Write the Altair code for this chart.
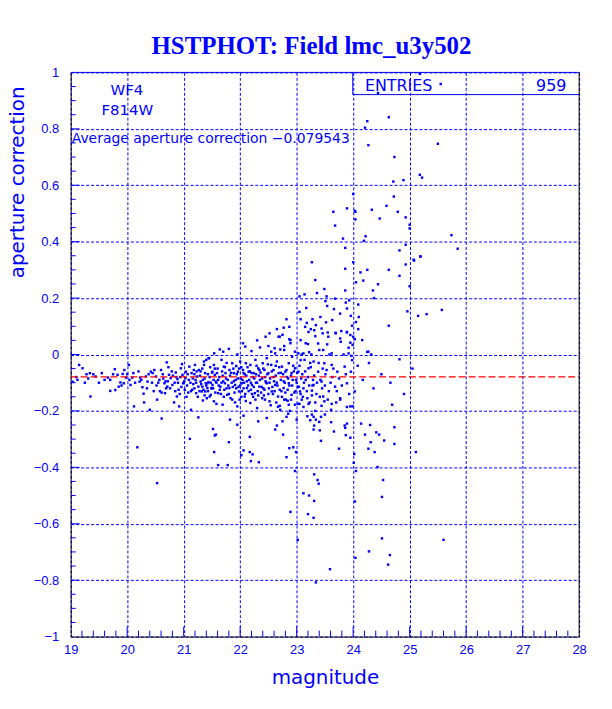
import altair as alt
import pandas as pd

# ---- data: (magnitude, aperture correction) ----
left_band = [(19.04,-0.097),(19.10,-0.08),(19.15,-0.037),(19.21,-0.049),(19.28,-0.07),(19.34,-0.066),(19.31,-0.085),(19.35,-0.149),(19.44,-0.078),(19.55,-0.066),(19.66,-0.082),(19.70,-0.09),(19.70,-0.129),(19.78,-0.052),(19.79,-0.126),(19.83,-0.072),(19.85,-0.114),(19.88,-0.099),(19.92,-0.069),(19.95,-0.055),(19.94,-0.102),(19.98,-0.082),(20.03,-0.037),(20.04,-0.09),(20.06,-0.108),(20.09,-0.082),(20.11,-0.066),(20.12,-0.184),(20.18,-0.329),(20.22,-0.096),(20.23,-0.082),(20.27,-0.116),(20.29,-0.139),(20.30,-0.17),(20.33,-0.078),(20.36,-0.096),(20.40,-0.196),(20.42,-0.061),(20.45,-0.066),(20.48,-0.055),(20.51,-0.078),(20.53,-0.16),(20.57,-0.09),(20.60,-0.055),(20.61,-0.135),(20.61,-0.227),(20.66,-0.102),(20.67,-0.137),(20.70,-0.028),(20.71,-0.114),(20.73,-0.045),(20.74,-0.072),(20.77,-0.084),(20.80,-0.108),(20.83,-0.17),(20.86,-0.064),(20.88,-0.149),(20.89,-0.087),(20.91,-0.125),(20.92,-0.184),(20.95,-0.049),(20.97,-0.034),(20.98,-0.072),(20.99,-0.102),(21.03,-0.084),(21.04,-0.061),(21.08,-0.135),(21.10,-0.043),(21.11,-0.299),(21.13,-0.196),(21.14,-0.066),(21.15,-0.125),(21.18,-0.055),(21.20,-0.037),(21.21,-0.09),(21.22,-0.137),(21.24,-0.078),(21.26,-0.114),(21.26,-0.223),(21.27,-0.055),(21.30,-0.096),(21.32,-0.131),(21.34,-0.163),(21.36,-0.037),(21.38,-0.066),(21.39,-0.102),(21.40,-0.019),(21.42,-0.119),(21.45,-0.013),(21.48,-0.143),(21.50,-0.064),(21.51,-0.108),(21.52,-0.264),(21.54,0.004),(21.55,-0.072),(21.57,-0.284),(21.58,-0.175)]

left_band_more = [(19.12,-0.09),(19.25,-0.1),(19.4,-0.07),(19.5,-0.1),(19.6,-0.09),(19.75,-0.07),(19.9,-0.11),(20.0,-0.07),(20.14,-0.1),(20.2,-0.06),(20.25,-0.09),(20.35,-0.12),(20.38,-0.07),(20.44,-0.1),(20.47,-0.13),(20.55,-0.1),(20.64,-0.085),(20.69,-0.12),(20.72,-0.095),(20.81,-0.075),(20.85,-0.13),(20.9,-0.1),(20.94,-0.08)]

left_low = [(20.53,-0.456),(21.54,-0.346),(21.61,-0.392),(21.80,-0.311),(21.78,-0.392),(22.06,-0.340),(22.02,-0.357),(22.17,-0.346),(22.22,-0.354),(22.19,-0.378),(22.33,-0.382),(22.82,-0.364)]

mid_top = [(22.45,0.063),(22.52,0.075),(22.68,0.063),(22.87,0.054),(22.89,0.040),(23.16,0.040),(23.33,0.065),(23.21,0.080),(23.46,0.075),(23.56,0.063),(23.69,0.077),(23.77,0.057),(23.89,0.080),(23.95,0.069),(23.99,0.034),(22.09,0.028),(21.64,0.018),(22.61,0.022),(22.71,0.018),(22.62,0.004),(23.03,0.004),(23.09,0.0),(23.26,0.0),(23.47,0.016),(23.58,0.0),(23.83,0.0),(21.70,0.01),(21.95,0.0),(22.20,0.012),(22.35,0.025),(22.55,0.01),(22.78,0.03),(21.8,0.02),(22.05,0.04),(22.3,0.05),(22.5,0.03),(22.65,0.09),(22.75,0.07)]

mid_band_upper = [(21.36,-0.025),(21.44,-0.013),(21.51,-0.061),(21.535,-0.037),(21.59,-0.066),(21.67,-0.019),(21.71,-0.043),(21.74,-0.066),(21.81,-0.055),(21.86,-0.031),(21.89,-0.066),(21.93,-0.041),(21.96,-0.061),(22.0,-0.025),(22.02,-0.045),(22.06,-0.066),(22.10,-0.031),(22.15,-0.061),(22.18,-0.037),(22.24,-0.066),(22.27,-0.019),(22.32,-0.049),(22.36,-0.064),(22.40,-0.031),(22.43,-0.055),(22.47,-0.013),(22.50,-0.066),(22.55,-0.037),(22.59,-0.055),(22.65,-0.025),(22.68,-0.066),(22.74,-0.043),(22.80,-0.061),(22.86,-0.031),(22.91,-0.066),(22.97,-0.049),(23.03,-0.061),(23.14,-0.019),(23.21,-0.049),(23.30,-0.025),(23.38,-0.061),(23.49,-0.031),(23.53,-0.055),(23.62,-0.037),(23.72,-0.061),(23.85,-0.043),(23.96,-0.061)]

mid_band_lower = [(21.33,-0.114),(21.38,-0.131),(21.42,-0.102),(21.46,-0.149),(21.50,-0.119),(21.535,-0.166),(21.57,-0.096),(21.61,-0.137),(21.65,-0.114),(21.69,-0.178),(21.73,-0.102),(21.77,-0.143),(21.81,-0.119),(21.86,-0.160),(21.91,-0.108),(21.95,-0.184),(21.98,-0.131),(22.03,-0.102),(22.08,-0.149),(22.12,-0.119),(22.18,-0.172),(22.21,-0.108),(22.26,-0.137),(22.30,-0.190),(22.34,-0.114),(22.39,-0.155),(22.43,-0.125),(22.47,-0.102),(22.52,-0.166),(22.56,-0.131),(22.62,-0.108),(22.67,-0.149),(22.71,-0.196),(22.77,-0.119),(22.81,-0.160),(22.86,-0.102),(22.91,-0.143),(22.97,-0.178),(23.02,-0.114),(23.06,-0.131),(23.09,-0.160),(23.27,-0.128),(23.30,-0.108),(23.44,-0.096),(23.47,-0.149),(23.61,-0.196),(23.68,-0.114),(23.77,-0.155),(23.89,-0.102),(23.95,-0.184),(24.03,-0.131)]

mid_low = [(21.55,-0.287),(21.82,-0.231),(21.95,-0.249),(22.06,-0.217),(22.17,-0.292),(22.32,-0.237),(22.47,-0.225),(22.62,-0.266),(22.65,-0.252),(23.0,-0.231),(23.85,-0.252)]

faint_upper = [(25.18,0.637),(25.22,0.627),(24.89,0.618),(24.71,0.613),(24.00,0.569),(24.72,0.560),(24.59,0.527),(23.89,0.518),(23.65,0.506),(24.04,0.506),(24.33,0.513),(24.79,0.506),(24.47,0.482),(24.93,0.486),(24.04,0.479),(23.68,0.457),(25.00,0.460),(25.00,0.447),(24.22,0.419),(24.19,0.403),(23.82,0.411),(24.93,0.389),(23.86,0.378),(24.82,0.369),(24.00,0.327),(23.27,0.327),(25.07,0.336),(25.19,0.347),(24.93,0.319),(24.25,0.300),(23.86,0.304),(24.63,0.300),(24.13,0.291),(24.82,0.279),(23.33,0.264),(24.18,0.262),(24.05,0.256),(24.44,0.249),(23.49,0.232),(23.86,0.227),(24.35,0.227),(23.36,0.218),(23.14,0.213),(23.05,0.206),(25.00,0.242),(23.53,0.206),(23.68,0.198),(23.93,0.192),(23.87,0.184),(23.51,0.189),(23.17,0.165),(23.54,0.172),(23.66,0.161),(23.89,0.163),(24.09,0.177),(23.77,0.145),(23.42,0.133),(23.05,0.151),(23.96,0.137),(24.10,0.133),(24.96,0.153),(25.15,0.137),(25.30,0.143),(22.82,0.125),(23.07,0.125),(23.18,0.112),(23.28,0.125),(23.34,0.104),(23.52,0.114),(23.63,0.122),(24.05,0.115),(22.77,0.095),(22.87,0.098),(23.15,0.098),(23.25,0.090),(23.31,0.086),(23.44,0.092),(23.55,0.078),(23.69,0.075),(23.79,0.083),(23.89,0.078),(23.98,0.102),(24.00,0.063),(24.09,0.090),(24.16,0.051),(24.63,0.102),(22.70,0.063),(22.89,0.051),(23.07,0.051),(23.20,0.037),(23.38,0.039),(23.54,0.036),(23.78,0.045),(23.95,0.042),(23.92,0.024),(24.03,0.054),(22.78,0.016),(22.97,0.010),(23.12,0.004),(23.22,0.008),(23.40,0.016),(23.62,0.004),(23.92,0.004),(24.27,0.010),(24.82,-0.017),(22.92,-0.008)]

faint_top = [(25.18,0.995),(25.55,0.959),(24.44,0.927),(24.63,0.841),(24.25,0.827),(24.21,0.804),(24.27,0.742),(25.50,0.747),(24.73,0.700),(24.03,0.509),(25.74,0.423),(25.85,0.375),(25.19,0.348),(25.08,0.333),(24.37,0.200),(25.57,0.158),(24.25,0.009),(24.32,0.0),(23.97,-0.005)]

faint_lower = [(22.84,-0.164),(22.86,-0.178),(23.05,-0.175),(23.12,-0.186),(23.21,-0.175),(23.33,-0.170),(23.49,-0.166),(23.62,-0.175),(23.44,-0.182),(23.77,-0.160),(23.89,-0.186),(23.99,-0.184),(24.69,-0.178),(22.70,-0.182),(22.82,-0.221),(22.75,-0.237),(23.19,-0.219),(23.27,-0.213),(23.30,-0.221),(23.34,-0.231),(23.24,-0.233),(23.43,-0.221),(23.40,-0.239),(23.50,-0.213),(23.61,-0.240),(23.31,-0.252),(23.89,-0.245),(23.86,-0.260),(24.14,-0.245),(24.30,-0.250),(24.73,-0.258),(23.30,-0.266),(23.41,-0.269),(23.66,-0.273),(23.87,-0.286),(23.95,-0.295),(24.21,-0.284),(24.41,-0.276),(24.46,-0.284),(22.76,-0.284),(23.43,-0.306),(24.31,-0.311),(24.55,-0.305),(24.73,-0.317),(22.87,-0.332),(22.94,-0.329),(23.75,-0.334),(24.27,-0.334),(24.38,-0.346),(25.11,-0.346),(22.99,-0.346),(24.02,-0.353),(24.01,-0.384),(24.43,-0.399),(24.05,-0.413),(22.97,-0.413),(23.31,-0.425),(24.53,-0.445),(23.37,-0.445),(23.39,-0.458),(23.12,-0.492),(23.22,-0.500),(24.51,-0.505),(23.31,-0.519),(24.03,-0.521),(22.89,-0.558),(23.20,-0.566),(23.30,-0.579),(23.02,-0.657),(24.51,-0.652),(25.60,-0.657),(24.28,-0.698),(24.65,-0.711),(24.04,-0.721),(24.62,-0.745),(23.59,-0.761),(23.34,-0.808)]

extra_band = [(20.52,-0.11),(20.58,-0.13),(20.63,-0.07),(20.68,-0.095),(20.76,-0.12),(20.79,-0.06),(20.84,-0.1),(20.87,-0.08),(20.93,-0.14),(20.96,-0.115),(21.01,-0.095),(21.06,-0.11),(21.07,-0.07),(21.12,-0.1),(21.16,-0.085),(21.19,-0.12),(21.23,-0.06),(21.25,-0.15),(21.29,-0.075),(21.31,-0.105),(21.33,-0.05),(21.35,-0.125),(21.37,-0.085),(21.41,-0.155),(21.43,-0.07),(21.44,-0.098),(21.47,-0.045),(21.49,-0.12),(21.53,-0.09),(21.56,-0.135),
(21.60,-0.05),(21.62,-0.11),(21.63,-0.08),(21.66,-0.14),(21.68,-0.06),(21.70,-0.095),(21.72,-0.125),(21.75,-0.085),(21.76,-0.03),(21.79,-0.11),(21.82,-0.075),(21.83,-0.155),(21.85,-0.1),(21.88,-0.05),(21.90,-0.135),(21.92,-0.09),(21.94,-0.07),(21.97,-0.115),(21.99,-0.16),(22.01,-0.085),(22.03,-0.13),(22.05,-0.055),(22.07,-0.1),(22.09,-0.14),(22.11,-0.075),(22.13,-0.045),(22.14,-0.11),(22.16,-0.09),(22.19,-0.125),(22.20,-0.065),(22.23,-0.15),(22.25,-0.085),(22.28,-0.1),(22.29,-0.04),
(22.31,-0.13),(22.33,-0.075),(22.35,-0.09),(22.38,-0.115),(22.41,-0.05),(22.42,-0.145),(22.44,-0.08),(22.46,-0.1),(22.49,-0.035),(22.51,-0.12),(22.53,-0.085),(22.56,-0.06),(22.58,-0.14),(22.60,-0.095),(22.63,-0.075),(22.64,-0.17),(22.66,-0.11),(22.69,-0.045),(22.72,-0.09),(22.73,-0.13),(22.76,-0.07),(22.78,-0.16),(22.79,-0.1),(22.82,-0.055),(22.84,-0.125),(22.85,-0.085),(22.88,-0.2),(22.90,-0.075),(22.92,-0.11),(22.94,-0.04),(22.96,-0.135),(22.99,-0.09),(23.01,-0.065),(23.04,-0.115),(23.07,-0.02),(23.08,-0.085),(23.11,-0.15),(23.13,-0.1),(23.15,-0.06),(23.18,-0.13),(23.20,-0.08),(23.23,-0.17),(23.25,-0.045),(23.28,-0.11),(23.31,-0.075),(23.35,-0.14),(23.39,-0.03),(23.42,-0.09),(23.45,-0.12),(23.51,-0.07),(23.55,-0.16),(23.60,-0.1),(23.65,-0.05),(23.71,-0.13),(23.75,-0.085),(23.80,-0.11),(23.87,-0.07),(23.93,-0.14),(23.98,-0.02)]

extra_band2 = [(21.02,-0.125),(21.05,-0.15),(21.09,-0.09),(21.13,-0.13),(21.17,-0.105),(21.19,-0.07),(21.22,-0.1),(21.28,-0.13),(21.3,-0.06),(21.34,-0.09),(21.37,-0.145),(21.4,-0.11),(21.43,-0.13),(21.46,-0.08),(21.48,-0.1),(21.52,-0.12),(21.55,-0.05),(21.58,-0.1),
(21.61,-0.09),(21.64,-0.125),(21.67,-0.1),(21.69,-0.075),(21.71,-0.15),(21.73,-0.045),(21.76,-0.12),(21.78,-0.09),(21.8,-0.14),(21.84,-0.065),(21.87,-0.115),(21.89,-0.095),(21.91,-0.17),(21.93,-0.12),(21.96,-0.085),(21.98,-0.05),(22.0,-0.11),(22.02,-0.15),(22.04,-0.09),(22.06,-0.12),(22.08,-0.07),(22.1,-0.165),(22.12,-0.095),(22.15,-0.13),(22.17,-0.06),(22.19,-0.1),(22.21,-0.14),(22.22,-0.08),(22.24,-0.115),(22.27,-0.16),(22.28,-0.07),
(22.3,-0.1),(22.32,-0.145),(22.34,-0.055),(22.37,-0.135),(22.39,-0.085),(22.41,-0.12),(22.44,-0.16),(22.45,-0.095),(22.48,-0.07),(22.5,-0.14),(22.52,-0.1),(22.54,-0.18),(22.57,-0.115),(22.59,-0.08),(22.61,-0.13),(22.63,-0.04),(22.65,-0.1),(22.67,-0.185),(22.7,-0.125),(22.72,-0.065),(22.74,-0.15),(22.77,-0.095),(22.8,-0.135),(22.83,-0.08),(22.85,-0.21),(22.87,-0.11),(22.9,-0.16),(22.93,-0.09),(22.95,-0.06),(22.98,-0.13),(23.0,-0.1),(23.02,-0.175),(23.05,-0.04),(23.07,-0.14),(23.1,-0.07),(23.12,-0.12),(23.16,-0.09),(23.19,-0.155),(23.22,-0.11),(23.24,-0.03),(23.27,-0.145),(23.29,-0.09),(23.33,-0.2),(23.36,-0.1),(23.41,-0.15),(23.46,-0.05),(23.5,-0.11),(23.57,-0.13),(23.63,-0.08),(23.7,-0.17)]

extra_right = [(24.08,-0.04),(24.17,-0.09),(24.28,-0.03),(24.36,-0.12),(24.50,-0.07),(24.66,-0.10),(24.90,-0.14),(25.05,-0.05)]

avg_correction = [-0.079543]
x_labels = [19, 20, 21, 22, 23, 24, 25, 26, 27, 28]
y_labels = [-1, -0.8, -0.6, -0.4, -0.2, 0, 0.2, 0.4, 0.6, 0.8, 1]
x_minor = [v / 10 for v in range(190, 281, 2) if v % 10 != 0]
x_major = [20, 21, 22, 23, 24, 25, 26, 27]
y_minor = [v / 100 for v in range(-100, 101, 5) if v % 20 != 0]
y_major = [-0.8, -0.6, -0.4, -0.2, 0, 0.2, 0.4, 0.6, 0.8]

groups = [left_band, left_band_more, left_low, mid_top, mid_band_upper, mid_band_lower, mid_low,
          faint_upper, faint_top, faint_lower, extra_band, extra_band2, extra_right]
df = pd.DataFrame([p for g in groups for p in g], columns=["mag", "ap"])

BLUE = "#0000ff"
W, H = 511, 567
xs = alt.Scale(domain=[19, 28], nice=False, zero=False)
ys = alt.Scale(domain=[-1, 1], nice=False, zero=False)

points = alt.Chart(df).mark_square(size=6, color=BLUE, opacity=1, strokeWidth=0).encode(
    x=alt.X("mag:Q", scale=xs, axis=alt.Axis(values=x_labels, format="d", title="magnitude",
                                               ticks=False, labelPadding=7, labelFlush=False,
                                               titleY=47, titleBaseline="alphabetic")),
    y=alt.Y("ap:Q", scale=ys, axis=alt.Axis(values=y_labels, format="~g", title="aperture correction",
                                             ticks=False, labelPadding=12, labelFlush=False,
                                             titleX=-47, titleY=110,
                                             titleAngle=270, titleAlign="center",
                                             titleBaseline="alphabetic")),
)

one = pd.DataFrame({"k": [0]})

def xticks(vals, length):
    return alt.Chart(pd.DataFrame({"mag": vals})).mark_rule(color=BLUE, strokeWidth=1).encode(
        x=alt.X("mag:Q", scale=xs), y=alt.value(H), y2=alt.value(H - length))

def yticks(vals, length):
    return alt.Chart(pd.DataFrame({"ap": vals})).mark_rule(color=BLUE, strokeWidth=1).encode(
        y=alt.Y("ap:Q", scale=ys), x=alt.value(0), x2=alt.value(length))

avg_line = alt.Chart(pd.DataFrame({"ap": avg_correction})).mark_rule(
    color="#ff0000", strokeDash=[7, 3], strokeWidth=1.3).encode(
    y=alt.Y("ap:Q", scale=ys), x=alt.value(0), x2=alt.value(W))

top_frame = alt.Chart(one).mark_rule(color=BLUE).encode(x=alt.value(0), x2=alt.value(W), y=alt.value(0))
right_frame = alt.Chart(one).mark_rule(color="black").encode(x=alt.value(W), y=alt.value(0), y2=alt.value(H))
box_v = alt.Chart(one).mark_rule(color=BLUE).encode(x=alt.value(283.5), y=alt.value(0), y2=alt.value(22.3))
box_h = alt.Chart(one).mark_rule(color=BLUE).encode(x=alt.value(283.5), x2=alt.value(W), y=alt.value(22.3))

def label(text, x, y, size, align="left", font="DejaVu Sans", weight="normal"):
    return alt.Chart(pd.DataFrame({"t": [text]})).mark_text(
        align=align, baseline="alphabetic", font=font, fontSize=size, fontWeight=weight, color=BLUE
    ).encode(text="t:N", x=alt.value(x), y=alt.value(y))

texts = [
    label("HSTPHOT: Field lmc_u3y502", 242, -18.5, 25, "center", "Liberation Serif", "bold"),
    label("WF4", 56.5, 22.3, 15, "center"),
    label("F814W", 57, 42.3, 15, "center"),
    label("Average aperture correction \u22120.079543", 1, 70.5, 14),
    label("ENTRIES", 295.7, 18.3, 16),
    label("959", 498.3, 18.3, 16, "right"),
]

chart = alt.layer(
    points, xticks(x_minor, 6), xticks(x_major, 10), yticks(y_minor, 5), yticks(y_major, 9),
    avg_line, top_frame, right_frame, box_v, box_h, *texts
).properties(
    width=W, height=H,
    autosize=alt.AutoSizeParams(type="none"),
    padding={"left": 63, "top": 63, "right": 25, "bottom": 60},
    background="white",
).configure_axis(
    labelFont="Liberation Sans", labelFontSize=13, labelColor=BLUE,
    titleFont="DejaVu Sans", titleFontSize=20, titleFontWeight="normal", titleColor=BLUE,
    domainColor="black", domainWidth=1,
    gridColor=BLUE, gridDash=[3, 2], gridOpacity=1, gridWidth=1,
).configure_view(stroke=None)

chart.save("out.html", embed_options={"renderer": "svg", "actions": False})
